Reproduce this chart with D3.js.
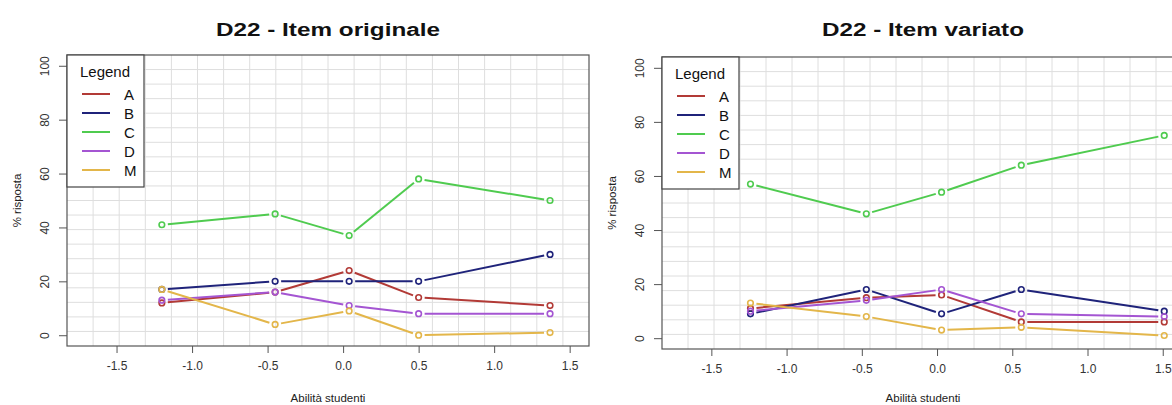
<!DOCTYPE html>
<html>
<head>
<meta charset="utf-8">
<script src="https://cdn.jsdelivr.net/npm/d3@7"></script>
<style>
  html, body { margin: 0; padding: 0; background: #fff; }
  svg { display: block; font-family: "Liberation Sans", Arial, sans-serif; }
</style>
</head>
<body>
<svg id="chart" width="1172" height="405"></svg>
<script>
// Response options and their colours
const options = ["A", "B", "C", "D", "M"];
const optionColors = ["#b23a36", "#1f237a", "#4fcb4f", "#a455d2", "#e3b64a"];

// Axis ticks
const xTicks = [-1.5, -1.0, -0.5, 0.0, 0.5, 1.0, 1.5];
const yTicks = [0, 20, 40, 60, 80, 100];

// Original item: student ability groups and % answering each option
const abilityOrig = [-1.20, -0.45, 0.04, 0.50, 1.37];
const origA = [12, 16, 24, 14, 11];
const origB = [17, 20, 20, 20, 30];
const origC = [41, 45, 37, 58, 50];
const origD = [13, 16, 11, 8, 8];
const origM = [17, 4, 9, 0, 1];

// Modified item
const abilityVar = [-1.24, -0.47, 0.03, 0.56, 1.51];
const varA = [11, 15, 16, 6, 6];
const varB = [9, 18, 9, 18, 10];
const varC = [57, 46, 54, 64, 75];
const varD = [10, 14, 18, 9, 8];
const varM = [13, 8, 3, 4, 1];

const panels = [
  { title: "D22 - Item originale", titleW: 224, x: abilityOrig,
    series: [origA, origB, origC, origD, origM],
    box: { left: 67, top: 55, right: 589, bottom: 346 } },
  { title: "D22 - Item variato", titleW: 202, x: abilityVar,
    series: [varA, varB, varC, varD, varM],
    box: { left: 662, top: 57, right: 1182, bottom: 349 } }
];

// Plain hyphen for negative tick labels
const fmtX = d => d.toFixed(1).replace("\u2212", "-");

const svg = d3.select("#chart");

panels.forEach(p => {
  const b = p.box;
  const g = svg.append("g");
  const x = d3.scaleLinear().domain([-1.828, 1.628]).range([b.left, b.right]);
  const y = d3.scaleLinear().domain([-4, 104]).range([b.bottom, b.top]);

  // 20 x 20 background grid
  const gw = (b.right - b.left) / 20, gh = (b.bottom - b.top) / 20;
  const grid = g.append("g").attr("stroke", "#dedede").attr("stroke-width", 1);
  d3.range(1, 20).forEach(k => {
    grid.append("line").attr("x1", b.left + k * gw).attr("x2", b.left + k * gw)
      .attr("y1", b.top).attr("y2", b.bottom);
    grid.append("line").attr("x1", b.left).attr("x2", b.right)
      .attr("y1", b.top + k * gh).attr("y2", b.top + k * gh);
  });

  // Lines with gaps around the points, then open circles
  p.series.forEach((vals, si) => {
    const col = optionColors[si];
    const pts = vals.map((v, i) => [x(p.x[i]), y(v)]);
    const gap = 6;
    for (let i = 0; i < pts.length - 1; i++) {
      const [x1, y1] = pts[i], [x2, y2] = pts[i + 1];
      const len = Math.hypot(x2 - x1, y2 - y1);
      if (len <= 2 * gap) continue;
      const ux = (x2 - x1) / len, uy = (y2 - y1) / len;
      g.append("line")
        .attr("x1", x1 + ux * gap).attr("y1", y1 + uy * gap)
        .attr("x2", x2 - ux * gap).attr("y2", y2 - uy * gap)
        .attr("stroke", col).attr("stroke-width", 2);
    }
    g.selectAll(null).data(vals).enter().append("circle")
      .attr("cx", (d, i) => x(p.x[i])).attr("cy", d => y(d)).attr("r", 2.8)
      .attr("fill", "none").attr("stroke", col).attr("stroke-width", 1.6);
  });

  // Plot frame
  g.append("rect").attr("x", b.left).attr("y", b.top)
    .attr("width", b.right - b.left).attr("height", b.bottom - b.top)
    .attr("fill", "none").attr("stroke", "#555").attr("stroke-width", 1.2);

  // Bottom axis
  const xa = g.append("g").attr("transform", `translate(0,${b.bottom})`)
    .call(d3.axisBottom(x).tickValues(xTicks).tickFormat(fmtX).tickSize(7).tickSizeOuter(0).tickPadding(8));
  xa.select(".domain").remove();
  xa.selectAll("line").attr("stroke", "#555");
  xa.selectAll("text").attr("font-size", 12).attr("fill", "#333").attr("font-family", "Liberation Sans, Arial, sans-serif");

  // Left axis, labels rotated parallel to the axis
  const ya = g.append("g").attr("transform", `translate(${b.left},0)`)
    .call(d3.axisLeft(y).tickValues(yTicks).tickSize(8).tickSizeOuter(0));
  ya.select(".domain").remove();
  ya.selectAll("line").attr("stroke", "#555");
  ya.selectAll("text")
    .attr("font-size", 12).attr("fill", "#333").attr("font-family", "Liberation Sans, Arial, sans-serif")
    .attr("x", null).attr("dy", null)
    .attr("text-anchor", "middle")
    .attr("transform", "translate(-18,0) rotate(-90)");

  // Title
  const cx = b.left + (589 - 67) / 2;
  g.append("text").attr("x", cx).attr("y", 36)
    .attr("text-anchor", "middle").attr("font-weight", "bold").attr("font-size", 18)
    .attr("textLength", p.titleW).attr("lengthAdjust", "spacingAndGlyphs")
    .attr("fill", "#111").text(p.title);

  // Axis titles
  g.append("text").attr("x", cx).attr("y", Math.min(b.bottom + 56, 402))
    .attr("text-anchor", "middle").attr("font-size", 11.5).attr("fill", "#222")
    .text("Abilità studenti");
  g.append("text")
    .attr("transform", `translate(${b.left - 46},${(b.top + b.bottom) / 2}) rotate(-90)`)
    .attr("text-anchor", "middle").attr("font-size", 11.5).attr("fill", "#222")
    .text("% risposta");

  // Legend
  const lg = g.append("g").attr("transform", `translate(${b.left},${b.top})`);
  lg.append("rect").attr("width", 77).attr("height", 132)
    .attr("fill", "#fff").attr("stroke", "#444").attr("stroke-width", 1.2);
  lg.append("text").attr("x", 13).attr("y", 22).attr("font-size", 15).attr("fill", "#111").text("Legend");
  options.forEach((o, i) => {
    const ry = 39 + i * 19;
    lg.append("line").attr("x1", 15).attr("x2", 43).attr("y1", ry).attr("y2", ry)
      .attr("stroke", optionColors[i]).attr("stroke-width", 2);
    lg.append("text").attr("x", 57).attr("y", ry + 5.5).attr("font-size", 15).attr("fill", "#111").text(o);
  });
});
</script>
</body>
</html>
